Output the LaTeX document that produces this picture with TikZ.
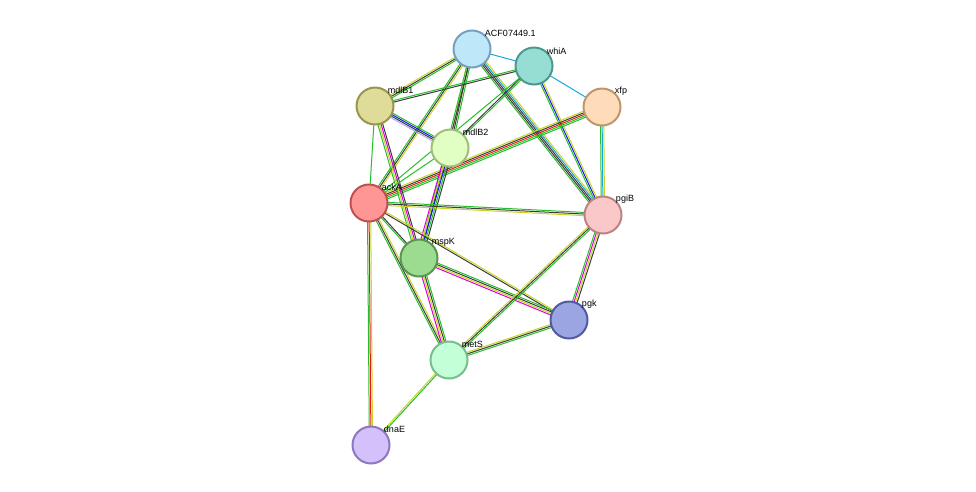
\documentclass[tikz,border=0pt]{standalone}
\usepackage{fontspec}
\setmainfont{Liberation Sans}
\usetikzlibrary{calc, backgrounds}
\definecolor{yg}{RGB}{200,212,40}
\definecolor{gr}{RGB}{40,190,40}
\definecolor{dk}{RGB}{60,60,60}
\definecolor{cy}{RGB}{20,170,220}
\definecolor{bl}{RGB}{20,20,240}
\definecolor{mg}{RGB}{220,0,220}
\definecolor{rd}{RGB}{240,20,20}
\definecolor{lv}{RGB}{170,170,255}
% node fills and rims
\definecolor{acfF}{RGB}{190,232,250}\definecolor{acfD}{RGB}{120,160,190}
\definecolor{whiaF}{RGB}{150,222,212}\definecolor{whiaD}{RGB}{80,150,140}
\definecolor{mdlbaF}{RGB}{222,220,152}\definecolor{mdlbaD}{RGB}{150,150,80}
\definecolor{xfpF}{RGB}{255,220,185}\definecolor{xfpD}{RGB}{190,150,110}
\definecolor{mdlbbF}{RGB}{225,255,195}\definecolor{mdlbbD}{RGB}{160,190,120}
\definecolor{ackaF}{RGB}{255,150,150}\definecolor{ackaD}{RGB}{190,80,80}
\definecolor{pgibF}{RGB}{250,200,200}\definecolor{pgibD}{RGB}{190,130,130}
\definecolor{mspkF}{RGB}{155,220,145}\definecolor{mspkD}{RGB}{90,150,80}
\definecolor{pgkF}{RGB}{155,165,225}\definecolor{pgkD}{RGB}{80,90,160}
\definecolor{metsF}{RGB}{195,255,215}\definecolor{metsD}{RGB}{120,190,140}
\definecolor{dnaeF}{RGB}{212,192,250}\definecolor{dnaeD}{RGB}{140,120,190}
\tikzset{
  prot/.style={circle, minimum size=37pt, inner sep=0pt, line width=2pt, fill=#1F, draw=#1D},
  lab/.style={label={[anchor=south west, inner sep=1pt, font=\small, xshift=-2pt, yshift=-3pt]north east:#1}},
  link/.style={line width=1pt}
}
% bundle of parallel lines between two nodes
\newcommand{\edge}[4]{%
  \foreach \c [count=\i] in {#4} {
    \pgfmathsetmacro{\off}{(\i-(#3+1)/2)*1.6}
    \draw [link, draw=\c] ($(#1)!\off pt!90:(#2)$) -- ($(#2)!\off pt!-90:(#1)$);
  }}

\begin{document}
\begin{tikzpicture}[x=1pt, y=-1pt]
    \useasboundingbox (0,0) rectangle (976,491);

    \node (acf) [prot=acf, lab=ACF07449.1] at (472,49) {};
    \node (whia) [prot=whia, lab=whiA] at (534,66) {};
    \node (mdlb1) [prot=mdlba, lab=mdlB1] at (375,106) {};
    \node (xfp) [prot=xfp, lab=xfp] at (602,107) {};
    \node (mdlb2) [prot=mdlbb, lab=mdlB2] at (450,148) {};
    \node (acka) [prot=acka, lab=ackA] at (369,203) {};
    \node (pgib) [prot=pgib, lab=pgiB] at (603,215) {};
    \node (mspk) [prot=mspk, lab=mspK] at (419,258) {};
    \node (pgk) [prot=pgk, lab=pgk] at (569,320) {};
    \node (mets) [prot=mets, lab=metS] at (449,360) {};
    \node (dnae) [prot=dnae, lab=dnaE] at (371,445) {};

    \begin{scope}[on background layer]
    \edge{acf}{whia}{1}{cy}
    \edge{acf}{mdlb1}{3}{yg,dk,gr}
    \edge{acf}{mdlb2}{3}{yg,dk,gr}
    \edge{acf}{acka}{3}{gr,dk,yg}
    \edge{acf}{mspk}{2}{gr,dk}
    \edge{acf}{pgib}{5}{gr,dk,dk,cy,yg}
    \edge{whia}{mdlb1}{2}{gr,dk}
    \edge{whia}{mdlb2}{2}{dk,gr}
    \edge{whia}{acka}{1}{gr}
    \edge{whia}{xfp}{1}{cy}
    \edge{whia}{pgib}{3}{gr,bl,yg}
    \edge{xfp}{acka}{5}{yg,dk,rd,gr,gr}
    \edge{xfp}{pgib}{3}{gr,cy,yg}
    \edge{mdlb1}{mdlb2}{4}{lv,dk,bl,gr}
    \edge{mdlb1}{acka}{1}{gr}
    \edge{mdlb1}{mspk}{4}{gr,yg,mg,dk}
    \edge{mdlb2}{acka}{1}{gr}
    \edge{mdlb2}{mspk}{5}{mg,yg,bl,gr,dk}
    \edge{acka}{pgib}{3}{yg,dk,gr}
    \edge{acka}{mspk}{2}{gr,dk}
    \edge{acka}{pgk}{2}{dk,yg}
    \edge{acka}{mets}{3}{gr,dk,yg}
    \edge{acka}{dnae}{3}{gr,rd,yg}
    \edge{mspk}{pgk}{4}{mg,yg,dk,gr}
    \edge{mspk}{mets}{4}{mg,yg,dk,gr}
    \edge{pgib}{pgk}{4}{gr,mg,yg,dk}
    \edge{pgib}{mets}{3}{yg,dk,gr}
    \edge{pgk}{mets}{3}{yg,dk,gr}
    \edge{mets}{dnae}{2}{yg,gr}
    \end{scope}

\end{tikzpicture}
\end{document}
